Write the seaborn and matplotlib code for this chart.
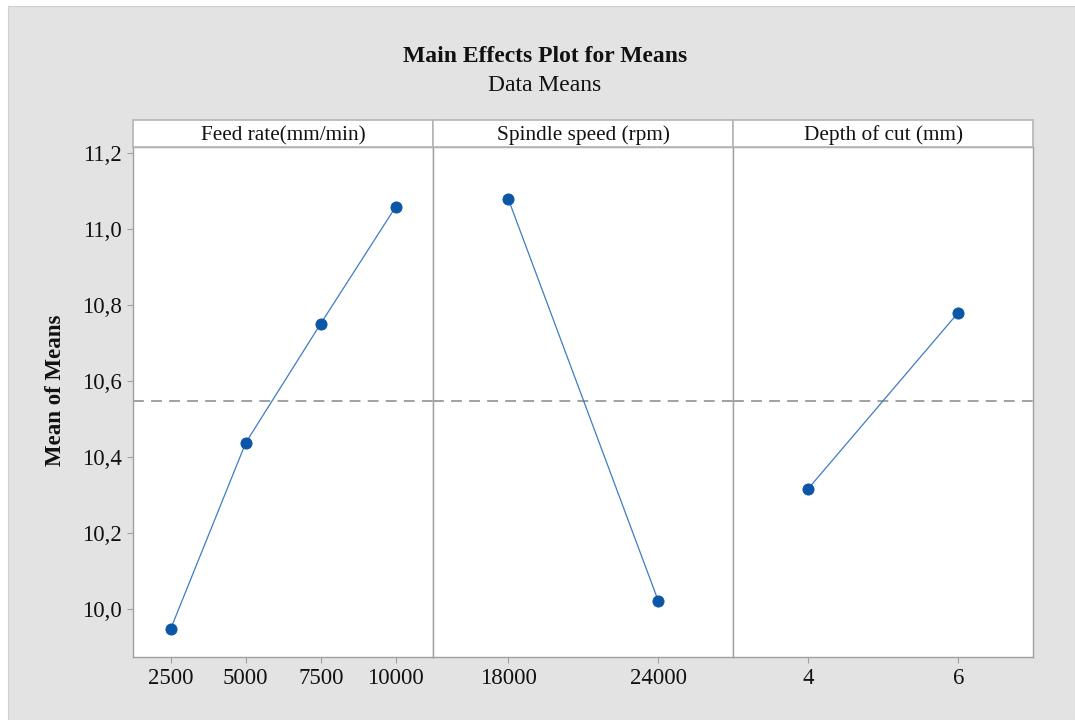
import matplotlib
matplotlib.use("Agg")
import matplotlib.pyplot as plt
from matplotlib.patches import Rectangle
import seaborn as sns
import pandas as pd

# Factor names and levels
factors = ["Feed rate(mm/min)", "Spindle speed (rpm)", "Depth of cut (mm)"]
feed_levels = ["2500", "5000", "7500", "10000"]
spindle_levels = ["18000", "24000"]
depth_levels = ["4", "6"]

# Mean response at each factor level
feed_means = [9.947, 10.437, 10.751, 11.059]
spindle_means = [11.079, 10.020]
depth_means = [10.316, 10.780]

grand_mean = 10.548
y_ticks = [10.0, 10.2, 10.4, 10.6, 10.8, 11.0, 11.2]

df = pd.concat([
    pd.DataFrame({"factor": factors[0], "level": feed_levels, "mean": feed_means}),
    pd.DataFrame({"factor": factors[1], "level": spindle_levels, "mean": spindle_means}),
    pd.DataFrame({"factor": factors[2], "level": depth_levels, "mean": depth_means}),
])
level_order = {factors[0]: feed_levels, factors[1]: spindle_levels, factors[2]: depth_levels}

sns.set_style("white")
plt.rcParams["font.family"] = ["Liberation Serif", "DejaVu Serif"]

W, H = 1075, 720
fig = plt.figure(figsize=(W / 100, H / 100), dpi=100, facecolor="white")

# Grey backdrop panel, behind everything
bg = fig.add_axes([8 / W, 0, 1 - 8 / W, 1 - 6 / H], zorder=-10)
bg.set_facecolor("#e3e3e3")
bg.set_xticks([])
bg.set_yticks([])
for s in bg.spines.values():
    s.set_color("#d0d0d0")
    s.set_linewidth(0.8)

GRID = "#a0a0a0"
MARK = "#0b56a6"
TEXT = "#111111"

left_px, panel_px = 133.3, 300.0
top_px, bottom_px = 146.7, 656.7
strip_px = 26.7
ax_h = (bottom_px - top_px) / H
ax_b = 1 - bottom_px / H

ylim = (9.873, 11.217)
axes = []
for i, fac in enumerate(factors):
    ax = fig.add_axes([(left_px + i * panel_px) / W, ax_b, panel_px / W, ax_h])
    ax.set_facecolor("white")
    sub = df[df["factor"] == fac]
    order = level_order[fac]
    sns.pointplot(data=sub, x="level", y="mean", order=order, color=MARK,
                  markers="o", markersize=8, linewidth=0.9, ax=ax, errorbar=None)
    for ln in ax.lines:
        ln.set_color("#3f7cc4")
        ln.set_markerfacecolor(MARK)
        ln.set_markeredgecolor(MARK)
    ax.axhline(grand_mean, color="#9a9a9a", linestyle=(0, (6, 4)), linewidth=1.3, zorder=1)
    ax.set_xlim(-0.5, len(order) - 0.5)
    ax.set_ylim(*ylim)
    ax.set_xlabel("")
    ax.set_ylabel("")
    for s in ax.spines.values():
        s.set_color(GRID)
        s.set_linewidth(1.0)
    ax.tick_params(axis="x", direction="out", length=4, width=0.8, color=GRID,
                   labelsize=16.5, labelcolor=TEXT, pad=4, bottom=True)
    if i == 0:
        ax.set_yticks(y_ticks)
        ax.set_yticklabels([f"{v:.1f}".replace(".", ",") for v in y_ticks])
        ax.tick_params(axis="y", direction="out", length=4, width=0.8, color=GRID,
                       labelsize=16.5, labelcolor=TEXT, pad=4, left=True)
    else:
        ax.set_yticks(y_ticks)
        ax.tick_params(axis="y", left=False, labelleft=False)
    # Strip header
    sh = strip_px / (bottom_px - top_px)
    ax.add_patch(Rectangle((0, 1), 1, sh, transform=ax.transAxes, facecolor="white",
                           edgecolor="#b5b5b5", linewidth=1.2, clip_on=False, zorder=3))
    ax.text(0.5, 1 + sh * 0.42, fac, transform=ax.transAxes, ha="center", va="center",
            fontsize=15.3, color=TEXT, zorder=4)
    axes.append(ax)

fig.text(0.507, 0.921, "Main Effects Plot for Means", ha="center", va="center",
         fontsize=17, fontweight="bold", color=TEXT)
fig.text(0.507, 0.881, "Data Means", ha="center", va="center", fontsize=17, color=TEXT)
fig.text(0.052, 0.458, "Mean of Means", ha="center", va="center", rotation=90,
         fontsize=16.5, fontweight="bold", color=TEXT)

fig.savefig("out.png", dpi=100, facecolor=fig.get_facecolor())
